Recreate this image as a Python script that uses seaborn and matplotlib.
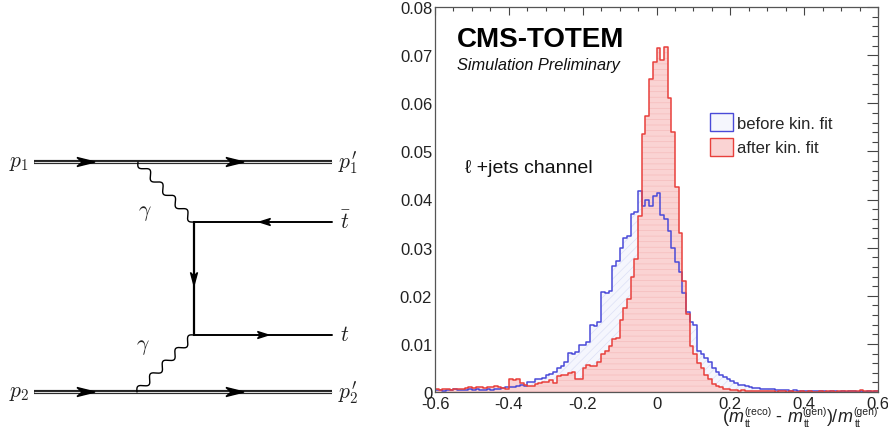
import numpy as np
import pandas as pd
import matplotlib
matplotlib.use("Agg")
import matplotlib.pyplot as plt
import seaborn as sns
from matplotlib.patches import Patch, Polygon
from matplotlib.ticker import MultipleLocator
from matplotlib.transforms import IdentityTransform

# ---------------- data ----------------
bin_lo, bin_hi, bin_w = -0.6, 0.6, 0.01

before_fit = [
    0.0004, 0.0005, 0.0003, 0.0005, 0.0004, 0.0006, 0.0005, 0.0004, 0.0005, 0.0006,
    0.0005, 0.0006, 0.0004, 0.0005, 0.0006, 0.0005, 0.0007, 0.0006, 0.0009, 0.0010,
    0.0011, 0.0010, 0.0013, 0.0014, 0.0012, 0.0020, 0.0021, 0.0028, 0.0027, 0.0029,
    0.0036, 0.0038, 0.0042, 0.0050, 0.0055, 0.0062, 0.0082, 0.0080, 0.0084, 0.0098,
    0.0097, 0.0104, 0.0139, 0.0137, 0.0145, 0.0208, 0.0206, 0.0210, 0.0262, 0.0273,
    0.0300, 0.0320, 0.0325, 0.0370, 0.0374, 0.0418, 0.0387, 0.0400, 0.0387, 0.0407,
    0.0413, 0.0368, 0.0360, 0.0334, 0.0300, 0.0270, 0.0250, 0.0206, 0.0166, 0.0145,
    0.0140, 0.0086, 0.0080, 0.0070, 0.0062, 0.0050, 0.0042, 0.0035, 0.0031, 0.0028,
    0.0023, 0.0018, 0.0015, 0.0014, 0.0012, 0.0011, 0.0009, 0.0008, 0.0007, 0.0007,
    0.0006, 0.0006, 0.0005, 0.0005, 0.0004, 0.0004, 0.0003, 0.0004, 0.0003, 0.0003,
    0.0003, 0.0002, 0.0003, 0.0002, 0.0002, 0.0002, 0.0001, 0.0002, 0.0002, 0.0001,
    0.0002, 0.0001, 0.0002, 0.0002, 0.0001, 0.0002, 0.0001, 0.0002, 0.0001, 0.0002,
]

after_fit = [
    0.0006, 0.0005, 0.0007, 0.0006, 0.0005, 0.0006, 0.0007, 0.0006, 0.0008, 0.0010,
    0.0009, 0.0011, 0.0010, 0.0009, 0.0011, 0.0010, 0.0012, 0.0010, 0.0008, 0.0007,
    0.0026, 0.0024, 0.0027, 0.0018, 0.0015, 0.0012, 0.0013, 0.0016, 0.0018, 0.0021,
    0.0020, 0.0025, 0.0018, 0.0034, 0.0036, 0.0035, 0.0040, 0.0041, 0.0026, 0.0027,
    0.0050, 0.0057, 0.0055, 0.0054, 0.0062, 0.0080, 0.0085, 0.0096, 0.0110, 0.0112,
    0.0150, 0.0175, 0.0193, 0.0240, 0.0276, 0.0366, 0.0536, 0.0574, 0.0650, 0.0685,
    0.0714, 0.0690, 0.0716, 0.0610, 0.0540, 0.0426, 0.0330, 0.0230, 0.0162, 0.0096,
    0.0080, 0.0060, 0.0050, 0.0035, 0.0026, 0.0017, 0.0013, 0.0010, 0.0007, 0.0006,
    0.0004, 0.0004, 0.0003, 0.0004, 0.0003, 0.0003, 0.0002, 0.0003, 0.0002, 0.0002,
    0.0002, 0.0002, 0.0001, 0.0002, 0.0002, 0.0001, 0.0002, 0.0001, 0.0001, 0.0002,
    0.0001, 0.0002, 0.0001, 0.0001, 0.0002, 0.0001, 0.0002, 0.0002, 0.0001, 0.0002,
    0.0003, 0.0002, 0.0003, 0.0002, 0.0003, 0.0004, 0.0003, 0.0002, 0.0003, 0.0003,
]

series_labels = ["before kin. fit", "after kin. fit"]
x_ticks = [-0.6, -0.4, -0.2, 0.0, 0.2, 0.4, 0.6]
x_tick_labels = ["-0.6", "-0.4", "-0.2", "0", "0.2", "0.4", "0.6"]
y_ticks = [0.0, 0.01, 0.02, 0.03, 0.04, 0.05, 0.06, 0.07, 0.08]
y_tick_labels = ["0", "0.01", "0.02", "0.03", "0.04", "0.05", "0.06", "0.07", "0.08"]

# x-axis title pieces: (main text, style) or (superscript, subscript)
xlabel_tokens = [
    ("main", "(", "normal"), ("main", "m", "italic"), ("script", "(reco)", r"$\mathrm{t\bar{t}}$"),
    ("main", " - ", "normal"), ("main", "m", "italic"), ("script", "(gen)", r"$\mathrm{t\bar{t}}$"),
    ("main", ")/", "normal"), ("main", "m", "italic"), ("script", "(gen)", r"$\mathrm{t\bar{t}}$"),
]

# Feynman diagram geometry (pixel frame of left panel)
x_in, x_out, x_vert = 34, 332, 194
y_p1, y_tbar, y_t, y_p2 = 163, 223, 336, 393
photon_top = ((138, y_p1), (x_vert, y_tbar))
photon_bot = ((x_vert, y_t), (137, y_p2))

# ---------------- style ----------------
sns.set_theme(style="white")
plt.rcParams["font.family"] = ["Liberation Sans", "DejaVu Sans"]
plt.rcParams["axes.unicode_minus"] = False
plt.rcParams["mathtext.fontset"] = "custom"
plt.rcParams["mathtext.rm"] = "Liberation Sans"
plt.rcParams["mathtext.it"] = "Liberation Sans:italic"
plt.rcParams["mathtext.bf"] = "Liberation Sans:bold"
plt.rcParams["hatch.linewidth"] = 0.5

fig = plt.figure(figsize=(8.88, 4.35), dpi=100)
fig.patch.set_facecolor("white")

# ---------------- Feynman diagram ----------------
axd = fig.add_axes([0, 0, 400 / 888, 1])
axd.set_xlim(0, 400)
axd.set_ylim(435, 0)
axd.axis("off")


def double_line(y):
    axd.plot([x_in, x_out], [y, y], color="#222222", lw=3.0, solid_capstyle="butt", zorder=2)
    axd.plot([x_in, x_out], [y, y], color="#d8d8d8", lw=0.8, solid_capstyle="butt", zorder=3)


def arrow_head(xc, yc, dx, dy, L, W):
    d = np.array([dx, dy], float)
    d /= np.linalg.norm(d)
    n = np.array([-d[1], d[0]])
    c = np.array([xc, yc], float)
    tip = c + d * L / 2
    back = c - d * L / 2
    pts = [tip, back + n * W / 2, back + d * L * 0.28, back - n * W / 2]
    axd.add_patch(Polygon(pts, closed=True, color="black", zorder=5))


def photon(p0, p1, periods=4.5, amp=3.4):
    p0 = np.array(p0, float)
    p1 = np.array(p1, float)
    t = np.linspace(0, 1, 400)
    d = p1 - p0
    n = np.array([-d[1], d[0]]) / np.linalg.norm(d)
    pts = p0[None, :] + t[:, None] * d[None, :] + (amp * np.sin(2 * np.pi * periods * t))[:, None] * n[None, :]
    axd.plot(pts[:, 0], pts[:, 1], color="black", lw=1.0, zorder=4)


double_line(y_p1)
double_line(y_p2)
for yy in (y_p1, y_p2):
    arrow_head(86, yy, 1, 0, 18, 9)
    arrow_head(235, yy, 1, 0, 18, 9)

axd.plot([x_vert, x_out], [y_tbar, y_tbar], color="black", lw=1.4, zorder=3)
axd.plot([x_vert, x_out], [y_t, y_t], color="black", lw=1.4, zorder=3)
axd.plot([x_vert, x_vert], [y_tbar, y_t], color="black", lw=1.6, zorder=3)
arrow_head(265, y_tbar, -1, 0, 11, 7)
arrow_head(263, y_t, 1, 0, 11, 7)
arrow_head(x_vert, 280, 0, 1, 13, 7)

photon(*photon_top)
photon(*photon_bot)

lab_kw = dict(fontsize=15.5, color="#222222", math_fontfamily="cm", va="center")
axd.text(9, y_p1, r"$p_1$", ha="left", **lab_kw)
axd.text(338, y_p1, r"$p_1^{\prime}$", ha="left", **lab_kw)
axd.text(9, y_p2, r"$p_2$", ha="left", **lab_kw)
axd.text(338, y_p2, r"$p_2^{\prime}$", ha="left", **lab_kw)
axd.text(340, y_tbar, r"$\bar{t}$", ha="left", **lab_kw)
axd.text(340, y_t, r"$t$", ha="left", **lab_kw)
axd.text(145, 213, r"$\gamma$", ha="center", **lab_kw)
axd.text(143, 347, r"$\gamma$", ha="center", **lab_kw)

# ---------------- histogram ----------------
ax = fig.add_axes([435 / 888, 42 / 435, 443 / 888, 385 / 435])
n_bins = int(round((bin_hi - bin_lo) / bin_w))
centers = bin_lo + bin_w * (np.arange(n_bins) + 0.5)
df = pd.DataFrame({"x": centers, "before": before_fit, "after": after_fit})

blue_edge, blue_fill, blue_hatch = "#4a4ad8", "#f5f6fd", "#dde0f6"
red_edge, red_fill, red_hatch = "#e8403c", "#fad3d3", "#f5bcbc"

for col, fc, hc, hatch in (("before", blue_fill, blue_hatch, "////"),
                           ("after", red_fill, red_hatch, "---")):
    n0 = len(ax.collections)
    sns.histplot(data=df, x="x", weights=col, binwidth=bin_w, binrange=(bin_lo, bin_hi),
                 element="step", fill=True, color=fc, alpha=1, linewidth=0, ax=ax)
    for coll in ax.collections[n0:]:
        coll.set_facecolor(fc)
        coll.set_edgecolor(hc)
        coll.set_linewidth(0)
        coll.set_hatch(hatch)

for col, ec in (("before", blue_edge), ("after", red_edge)):
    sns.histplot(data=df, x="x", weights=col, binwidth=bin_w, binrange=(bin_lo, bin_hi),
                 element="step", fill=False, color=ec, linewidth=1.1, ax=ax)

ax.set_xlim(bin_lo, bin_hi)
ax.set_ylim(0, 0.08)
ax.set_xticks(x_ticks)
ax.set_xticklabels(x_tick_labels)
ax.set_yticks(y_ticks)
ax.set_yticklabels(y_tick_labels)
ax.xaxis.set_minor_locator(MultipleLocator(0.05))
ax.yaxis.set_minor_locator(MultipleLocator(0.002))
ax.set_xlabel("")
ax.set_ylabel("")
ax.tick_params(which="both", direction="in", top=True, right=True, colors="#444444",
               labelcolor="#222222", width=0.8, labelsize=12)
ax.tick_params(axis="x", which="major", length=5.5, pad=3)
ax.tick_params(axis="x", which="minor", length=2.8)
ax.tick_params(axis="y", which="major", length=8, pad=2)
ax.tick_params(axis="y", which="minor", length=4.5)
for sp in ax.spines.values():
    sp.set_color("#555555")
    sp.set_linewidth(0.9)
    sp.set_visible(True)
ax.set_facecolor("white")
ax.grid(False)

ax.text(0.05, 0.8995, "CMS-TOTEM", transform=ax.transAxes, fontsize=20,
        fontweight="bold", ha="left", va="baseline", color="black")
ax.text(0.049, 0.839, "Simulation Preliminary", transform=ax.transAxes, fontsize=11.8,
        fontstyle="italic", ha="left", va="baseline", color="#111111")
ax.text(0.068, 0.5706, "\u2113 +jets channel", transform=ax.transAxes, fontsize=14,
        ha="left", va="baseline", color="#111111")

handles = [Patch(facecolor=blue_fill, edgecolor=blue_edge, linewidth=1.0),
           Patch(facecolor=red_fill, edgecolor=red_edge, linewidth=1.0)]
ax.legend(handles, series_labels, loc="upper left", bbox_to_anchor=(0.621, 0.724),
          frameon=False, fontsize=12, handlelength=1.35, handleheight=1.25,
          handletextpad=0.25, labelspacing=0.42, borderpad=0, borderaxespad=0)

# ---- x-axis title built from pieces (small ROOT-like scripts) ----
fig.canvas.draw()
renderer = fig.canvas.get_renderer()
main_size, script_size = 13, 7.5
x_right_px, base_px = 878.0, 435.0 - 422.5
placed = []
cursor = 0.0
for kind, a, b in xlabel_tokens:
    if kind == "main":
        t = fig.text(0, 0, a, transform=IdentityTransform(), fontsize=main_size,
                     fontstyle=b, ha="left", va="baseline", color="#222222")
        w = t.get_window_extent(renderer).width
        placed.append((t, cursor, 0.0))
        cursor += w
    else:
        ts = fig.text(0, 0, a, transform=IdentityTransform(), fontsize=script_size,
                      ha="left", va="baseline", color="#222222")
        tb = fig.text(0, 0, b, transform=IdentityTransform(), fontsize=script_size,
                      ha="left", va="baseline", color="#222222")
        w = max(ts.get_window_extent(renderer).width, tb.get_window_extent(renderer).width)
        placed.append((ts, cursor + 0.5, 7.5))
        placed.append((tb, cursor + 0.5, -6.0))
        cursor += w + 0.5
shift = x_right_px - cursor
for t, dx, dy in placed:
    t.set_position((shift + dx, base_px + dy))

fig.savefig("out.png", dpi=100, facecolor="white")
